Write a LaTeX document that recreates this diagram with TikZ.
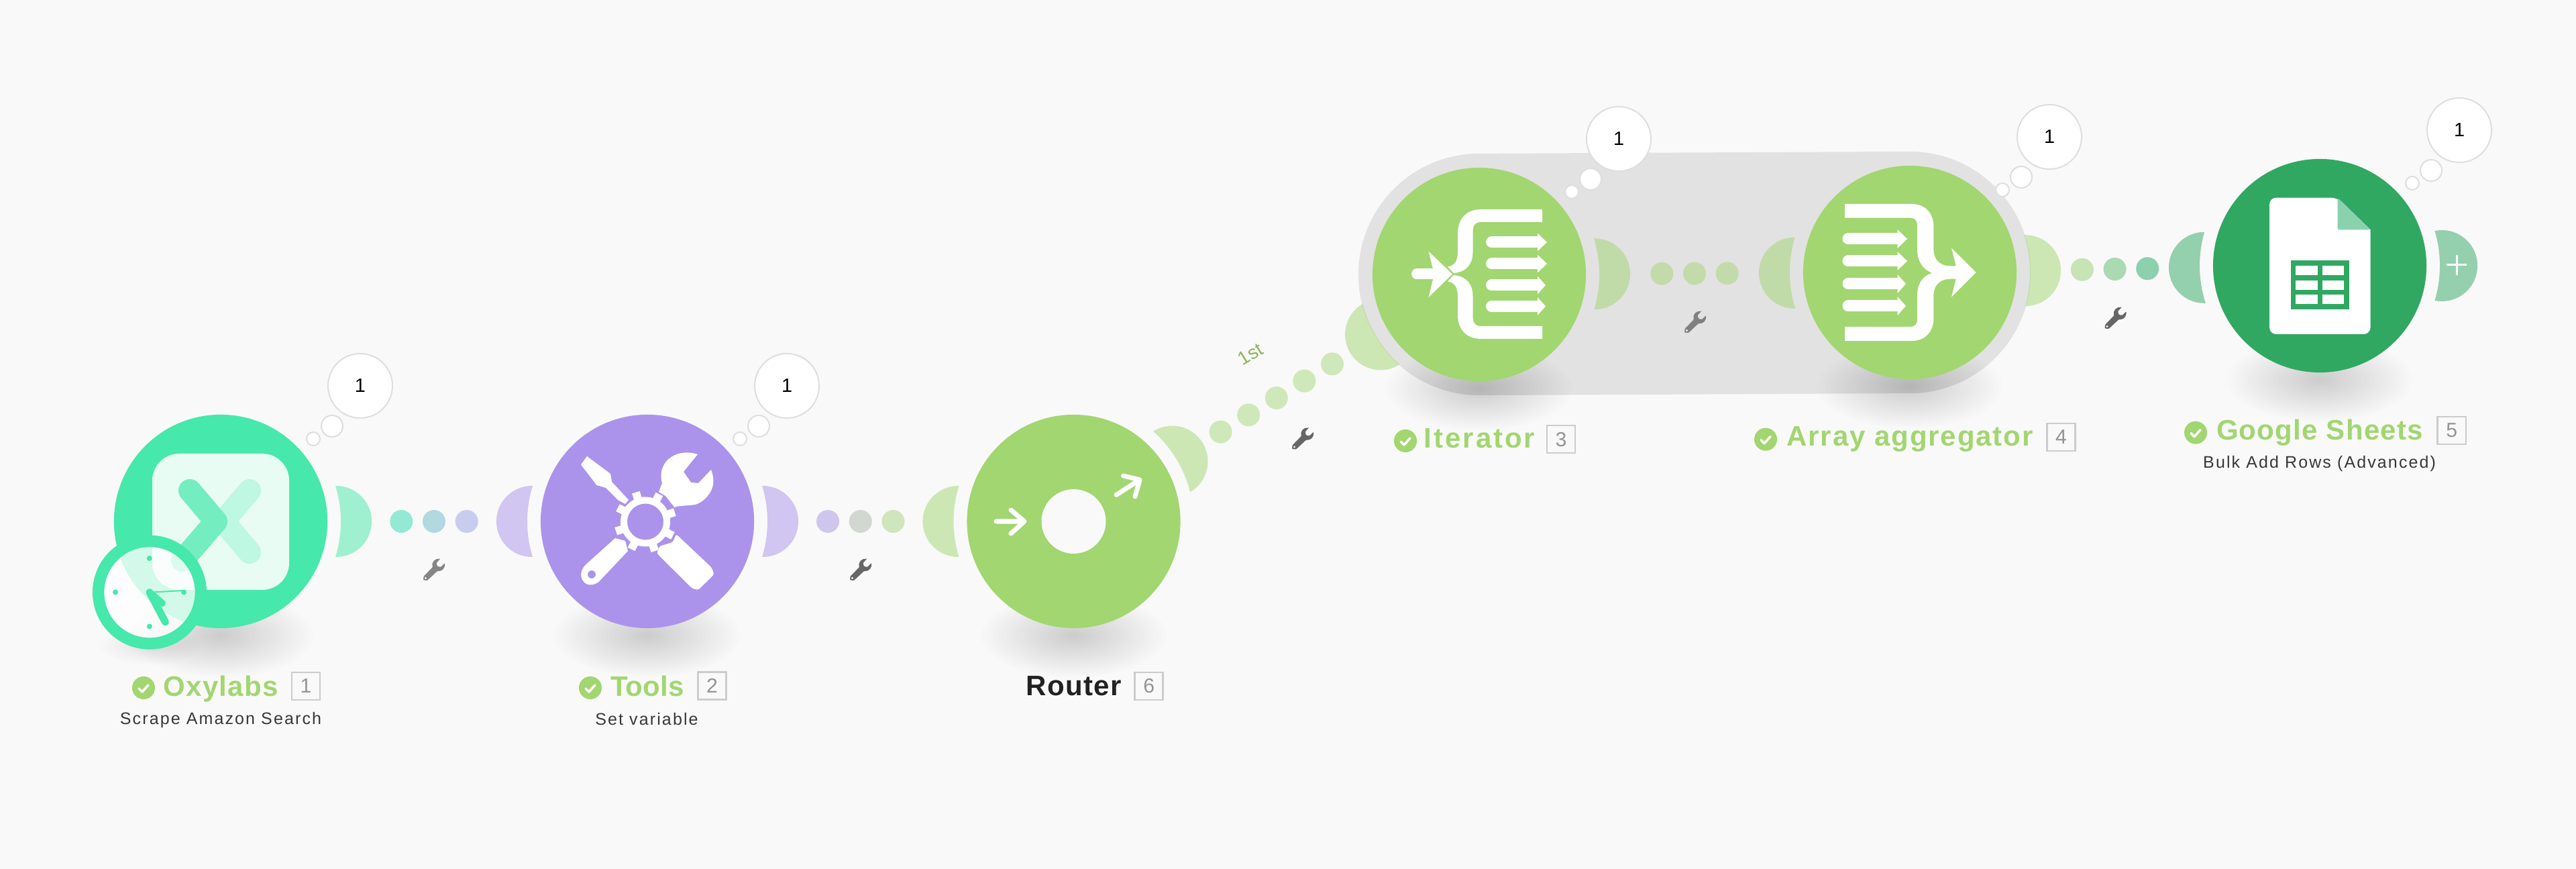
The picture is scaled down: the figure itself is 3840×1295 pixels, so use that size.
\documentclass[tikz,border=0pt]{standalone}
\usepackage{fontspec}
\setmainfont{Liberation Sans}
\newfontfamily\ttlfam{Liberation Sans}[LetterSpace=3]
\newfontfamily\subfam{Liberation Sans}[LetterSpace=8.5]
\usetikzlibrary{calc}
\pgfdeclarelayer{back}
\pgfsetlayers{back,main}
\definecolor{bgc}{HTML}{F9F9F9}
\definecolor{pillc}{HTML}{E2E2E2}
\definecolor{oxyc}{HTML}{46E8AB}
\definecolor{toolc}{HTML}{AB93EB}
\definecolor{grnc}{HTML}{A2D670}
\definecolor{shc}{HTML}{30A862}
\definecolor{foldc}{HTML}{8AD1AE}
\definecolor{dA}{HTML}{93E9D4}\definecolor{dB}{HTML}{B1D9DF}\definecolor{dC}{HTML}{C8CDEF}
\definecolor{dD}{HTML}{CFC6EE}\definecolor{dE}{HTML}{D2D7D2}\definecolor{dF}{HTML}{CFE5BC}
\definecolor{dG}{HTML}{CFE8B9}\definecolor{dH}{HTML}{C3DBAA}
\definecolor{dI}{HTML}{C6E4B5}\definecolor{dJ}{HTML}{A9DAB2}\definecolor{dK}{HTML}{8CD0AE}
\tikzset{
  module/.style={circle,inner sep=0pt,minimum size=3.18cm},
  linkdot/.style={circle,inner sep=0pt,minimum size=0.34cm},
  bubble/.style={circle,inner sep=0pt,fill=white,draw=#1,line width=0.02cm},
  bubble/.default={black!13},
  okdot/.style={circle,inner sep=0pt,minimum size=0.34cm,fill=grnc},
  ttl/.style={anchor=base,inner sep=0pt,text=grnc,font=\ttlfam\bfseries\fontsize{11.95}{14}\selectfont},
  subl/.style={anchor=base,inner sep=0pt,text=black!78,font=\subfam\fontsize{7.11}{9}\selectfont},
  numbox/.style={draw=black!20,line width=0.025cm,inner sep=0pt,minimum width=0.42cm,minimum height=0.41cm,text=black!42,font=\fontsize{8.6}{10}\selectfont},
  ico/.style={fill=white,draw=none},
  ticks/.style={draw=white,line width=0.035cm,line cap=round,line join=round},
}
\newcommand{\handle}[4][1.72cm]{%
  \begin{scope}[even odd rule]
    \clip (-10,-10) rectangle (3850,1305) (#2.center) circle[radius=179];
    \fill[#4,opacity=.5] ($(#2.center)!#1!(#3.center)$) circle[radius=53];
  \end{scope}}
\newcommand{\softshadow}[1]{%
  \foreach \i in {1,...,22}{
    \pgfmathsetmacro{\rx}{138*\i/22}\pgfmathsetmacro{\ry}{62*\i/22}
    \fill[black,opacity=.0072] ($(#1.center)+(0,170)$) ellipse[x radius=\rx,y radius=\ry];
  }}
\newcommand{\thought}[1]{%
  \node[bubble,minimum size=0.96cm,font=\fontsize{8.2}{10}\selectfont] (#1-b1) at ($(#1.center)+(208,-202)$) {1};
  \node[bubble,minimum size=0.32cm] (#1-b2) at ($(#1.center)+(166,-142)$) {};
  \node[bubble,minimum size=0.20cm] (#1-b3) at ($(#1.center)+(138,-123)$) {};}
\newcommand{\okmark}[3]{%
  \node[okdot] (#1) at (#2,#3) {};
  \draw[ticks] ($(#1.center)+(-7,1)$) -- ++(5,5) -- ++(9,-10);}
\newcommand{\spanner}[3]{%
  \begin{scope}[shift={(#1,#2)}]
    \fill[#3,rounded corners=0.01cm] (9,-16) -- (3.5,-10) -- (5,-5) -- (10,-4) -- (16,-10)
      .. controls (17,-3) and (12,3) .. (5,2) -- (-10,16) -- (-16,15.5) -- (-15.5,10) -- (-2,-4)
      .. controls (-4,-12) and (2,-17) .. (9,-16) -- cycle;
    \fill[bgc] (-12.5,12.5) circle[radius=1.6];
  \end{scope}}
\newcommand{\listarrow}[5]{% x0 x1 tip y halfhead
  \draw[white,line width=0.17cm,line cap=round] (#1+8,#4) -- (#2,#4);
  \fill[ico] (#2,#4-#5) -- (#3,#4) -- (#2,#4+#5) -- cycle;}
\begin{document}
\begin{tikzpicture}[x=0.01cm,y=-0.01cm]
\useasboundingbox (0,0) rectangle (3840,1295);

% modules
\node[module,fill=oxyc]  (oxy)   at (329,777)  {};
\node[module,fill=toolc] (tools) at (965,777)  {};
\node[module,fill=grnc]  (router) at (1600.5,777) {};
\node[module,fill=grnc]  (iter)  at (2205,409) {};
\node[module,fill=grnc]  (arr)   at (2847,406) {};
\node[module,fill=shc]   (sheets) at (3458,396) {};
\coordinate (plus) at (3800,396);

\begin{pgfonlayer}{back}
  \fill[bgc] (0,0) rectangle (3840,1295);
  \draw[pillc,line width=3.6cm,line cap=round] (iter.center) -- (arr.center);
  \foreach \m in {oxy,tools,router,iter,arr,sheets}{\softshadow{\m}}
  \foreach \i in {1,...,10}{
    \pgfmathsetmacro{\rx}{75*\i/10}\pgfmathsetmacro{\ry}{28*\i/10}
    \fill[black,opacity=.006] (223,962) ellipse[x radius=\rx,y radius=\ry];}
  % handles
  \handle{oxy}{tools}{oxyc}
  \handle{tools}{oxy}{toolc}
  \handle{tools}{router}{toolc}
  \handle{router}{tools}{grnc}
  \handle{router}{iter}{grnc}
  \handle{iter}{router}{grnc}
  \handle{iter}{arr}{grnc}
  \handle{arr}{iter}{grnc}
  \handle{arr}{sheets}{grnc}
  \handle{sheets}{arr}{shc}
  \handle[1.82cm]{sheets}{plus}{shc}
  % connector dots
  \path (oxy.center) -- (tools.center)
    node[linkdot,pos=.4234,fill=dA] (oxytools1) {}
    node[linkdot,pos=.5,fill=dB] (oxytools2) {}
    node[linkdot,pos=.5766,fill=dC] (oxytools3) {};
  \path (tools.center) -- (router.center)
    node[linkdot,pos=.4234,fill=dD] (toolsrouter1) {}
    node[linkdot,pos=.5,fill=dE] (toolsrouter2) {}
    node[linkdot,pos=.5766,fill=dF] (toolsrouter3) {};
  \path (router.center) -- (iter.center)
    node[linkdot,pos=.3624,fill=dG] (routeriter1) {}
    node[linkdot,pos=.4312,fill=dG] (routeriter2) {}
    node[linkdot,pos=.5,fill=dG] (routeriter3) {}
    node[linkdot,pos=.5688,fill=dG] (routeriter4) {}
    node[linkdot,pos=.6376,fill=dG] (routeriter5) {};
  \path (iter.center) -- (arr.center)
    node[linkdot,pos=.4241,fill=dH] (iterarr1) {}
    node[linkdot,pos=.5,fill=dH] (iterarr2) {}
    node[linkdot,pos=.5759,fill=dH] (iterarr3) {};
  \path (arr.center) -- (sheets.center)
    node[linkdot,pos=.4203,fill=dI] (arrsheets1) {}
    node[linkdot,pos=.5,fill=dJ] (arrsheets2) {}
    node[linkdot,pos=.5797,fill=dK] (arrsheets3) {};
\end{pgfonlayer}

% plus on the add handle
\draw[white,line width=0.03cm] (3647,395) -- (3677,395) (3662,380) -- (3662,410);

% spanners
\spanner{647}{849}{black!48}
\spanner{1283}{849}{black!60}
\spanner{1942}{653.6}{black!60}
\spanner{2527}{480}{black!50}
\spanner{3153.5}{474}{black!60}

% route label
\node[rotate=31.2,inner sep=0pt,text=grnc!85!black,font=\fontsize{8}{9}\selectfont] (first) at (1864,528) {1st};

% Oxylabs icon
\fill[white,opacity=.88,rounded corners=0.4cm] (227,676) rectangle (431,879);
\draw[oxyc!35!white,line width=0.34cm,line cap=round,line join=round] (372,731) -- (333,777) -- (372,823);
\draw[oxyc!75!white,line width=0.34cm,line cap=round,line join=round] (283,731) -- (322,777) -- (272,835);
% clock
\node[circle,inner sep=0pt,minimum size=1.40cm,fill=white,fill opacity=.76] (face) at (223,882.7) {};
\node[circle,inner sep=0pt,minimum size=1.526cm,draw=oxyc,line width=0.174cm] (clock) at (223,882.7) {};
\foreach \a/\b in {222.8/832,172/882.5,274/882.5,222.8/933.5}{\fill[oxyc] (\a,\b) circle[radius=4];}
\draw[oxyc,line width=0.11cm,line cap=round] (face.center) -- (246.4,927);
\draw[oxyc,line width=0.1cm,line cap=round] (face.center) -- (242,899);
\draw[oxyc,line width=0.02cm] (face.center) -- (274,880);

% Tools icon
\draw[white,line width=0.10cm] (962,777.5) circle[radius=32];
\foreach \a in {18,63,108,153,198,243,288,333}{
  \begin{scope}[shift={(962,777.5)},rotate=\a]
    \fill[ico] (34,-6) rectangle (46,6);
  \end{scope}}
\fill[ico] (875,680) -- (910,706) -- (912,718) -- (937,745) -- (932,751) -- (921,745) -- (903,727) -- (889.5,723) -- (866,692.5) -- cycle;
\fill[ico] (1040,677) -- (1019,703) -- (1030,719) -- (1041,720) -- (1060,700)
  .. controls (1066,715) and (1064,728) .. (1055,739) .. controls (1047,748) and (1040,752) .. (1032,752.6)
  -- (1010,754.5) -- (1005.5,756) -- (992,739) -- (982,733) -- (987,720)
  .. controls (983,705) and (987,693) .. (996.6,684) .. controls (1008,674) and (1025,672) .. (1040,677) -- cycle;
\fill[ico,even odd rule] (917,802) -- (932,806) -- (936,821) -- (894,865.5)
  .. controls (888,872) and (875,875) .. (869,865.5) .. controls (864,858) and (866,850) .. (872,842.5) -- cycle
  (882,856) circle[radius=6];
\fill[ico,rounded corners=0.03cm] (1008,796) -- (1003,808) -- (983,814) -- (979,824.5) -- (1032,877) -- (1041,879) -- (1064.5,856) -- (1061,846) -- cycle;

% Router icon
\fill[bgc] (router.center) circle[radius=48];
\draw[white,line width=0.07cm,line cap=round,line join=round] (1485,777) -- (1527,777) (1507,760) -- (1527,777) -- (1507,795);
\draw[white,line width=0.07cm,line cap=round,line join=round] (1664,737.5) -- (1699,715) (1674.5,709) -- (1699,715) -- (1692,740);

% Iterator icon
\draw[white,line width=0.16cm,line cap=round] (2112,408.5) -- (2134,408.5);
\fill[ico] (2129.5,374.6) -- (2165,408.5) -- (2129.5,443) -- (2136,416.8) -- (2136,400.7) -- cycle;
\fill[ico] (2299,312) -- (2208,312) .. controls (2186,312) and (2173,326) .. (2173,348) -- (2173,375)
  .. controls (2173,390) and (2168,396) .. (2158,397.5) -- (2167,407) .. controls (2187,405) and (2195.5,393) .. (2195.5,375)
  -- (2195.5,345) .. controls (2195.5,336) and (2199,331) .. (2207,331) -- (2299,331) -- cycle;
\fill[ico] (2299,505) -- (2208,505) .. controls (2186,505) and (2173,491) .. (2173,469) -- (2173,442)
  .. controls (2173,427) and (2168,421) .. (2158,419.5) -- (2167,410) .. controls (2187,412) and (2195.5,424) .. (2195.5,442)
  -- (2195.5,472) .. controls (2195.5,481) and (2199,486) .. (2207,486) -- (2299,486) -- cycle;
\listarrow{2215.6}{2292}{2306}{361}{13.4}
\listarrow{2215.6}{2292}{2306}{393}{13.4}
\listarrow{2215.6}{2292}{2304}{425}{13.4}
\listarrow{2215.6}{2292}{2304}{456.4}{13.4}

% Aggregator icon
\fill[ico] (2750,304) -- (2850,304) .. controls (2870,304) and (2882.4,318) .. (2882.4,338) -- (2882.4,372)
  .. controls (2882.4,388) and (2893,396.4) .. (2907,396.4) -- (2915.7,396.4) -- (2909,369.6) -- (2945.6,406)
  -- (2909,442.5) -- (2915.7,415.7) -- (2907,415.7) .. controls (2893,415.7) and (2882.4,424) .. (2882.4,440)
  -- (2882.4,474) .. controls (2882.4,494) and (2870,508) .. (2850,508) -- (2750,508) -- (2750,487) -- (2848,487)
  .. controls (2854,487) and (2858,483) .. (2858,477) -- (2858,440) .. controls (2858,423) and (2866,411) .. (2880,407)
  .. controls (2866,401) and (2858,389) .. (2858,372) -- (2858,335) .. controls (2858,329) and (2854,324.6) .. (2848,324.6)
  -- (2750,324.6) -- cycle;
\listarrow{2747}{2828.5}{2843}{356}{14}
\listarrow{2747}{2828.5}{2843}{389}{14}
\listarrow{2747}{2828.5}{2841}{423}{14}
\listarrow{2747}{2828.5}{2841}{456}{14}

% Sheets icon
\fill[ico,rounded corners=0.1cm] (3383,294.6) -- (3484.5,294.6) [sharp corners] -- (3533.5,342.4) [rounded corners=0.1cm] -- (3533.5,498) -- (3383,498) -- cycle;
\fill[foldc,rounded corners=0.03cm] (3484.5,294.6) -- (3533.5,342.4) -- (3484.5,342.4) -- cycle;
\fill[shc] (3415,388) rectangle (3501.6,461.4);
\foreach \xa/\xb in {3422/3454.7,3462/3493.5}{
  \foreach \ya/\yb in {396/410,418/432.3,439/453.4}{
    \fill[ico] (\xa,\ya) rectangle (\xb,\yb);}}

% thought bubbles
\foreach \m in {oxy,tools,iter,arr,sheets}{\thought{\m}}

% labels
\okmark{oxyok}{214}{1025}
\node[ttl] (oxyt) at (329,1037) {Oxylabs};
\node[numbox] (oxyn) at (456,1022.5) {1};
\node[subl] (oxys) at (329,1079) {Scrape Amazon Search};

\okmark{toolsok}{880}{1025}
\node[ttl,font=\ttlfam\bfseries\fontsize{11.95}{14}\selectfont\addfontfeature{LetterSpace=0.5}] (toolst) at (965,1037) {Tools};
\node[numbox] (toolsn) at (1061.5,1022) {2};
\node[subl] (toolss) at (964,1080) {Set variable};

\node[ttl,text=black!87] (routert) at (1600.5,1036.4) {Router};
\node[numbox] (routern) at (1712.7,1022.3) {6};

\okmark{iterok}{2095}{657}
\node[ttl,font=\ttlfam\bfseries\fontsize{11.95}{14}\selectfont\addfontfeature{LetterSpace=7}] (itert) at (2205.5,668) {Iterator};
\node[numbox] (itern) at (2327,654.6) {3};

\okmark{arrok}{2632}{654.7}
\node[ttl,font=\ttlfam\bfseries\fontsize{11.95}{14}\selectfont\addfontfeature{LetterSpace=4.5}] (arrt) at (2847,665) {Array aggregator};
\node[numbox] (arrn) at (3072.6,651.5) {4};

\okmark{sheetsok}{3273}{644.7}
\node[ttl] (sheetst) at (3458,656) {Google Sheets};
\node[numbox] (sheetsn) at (3654.7,641.6) {5};
\node[subl] (sheetss) at (3457.6,698) {Bulk Add Rows (Advanced)};
\end{tikzpicture}
\end{document}
